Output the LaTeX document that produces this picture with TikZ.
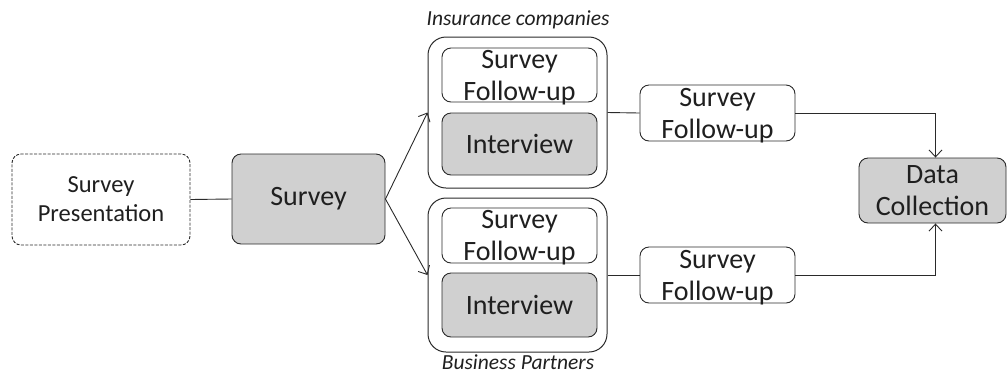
\documentclass[tikz,border=0pt]{standalone}
\usepackage{fontspec}
\setmainfont{Carlito}
\usetikzlibrary{arrows.meta}
\definecolor{ln}{HTML}{2A2A2A}
\definecolor{gfill}{HTML}{D0D0D0}
\begin{document}
\begin{tikzpicture}[x=1pt,y=-1pt,
  box/.style={draw=ln,line width=0.9pt,rounded corners=9pt,align=center,inner sep=0pt,text=black!88,font=\fontsize{28}{32}\selectfont},
  grey/.style={box,fill=gfill},
  sfbox/.style={box,text depth=0pt},
  outer/.style={draw=ln,line width=1pt,rounded corners=18pt,inner sep=0pt},
  lab/.style={font=\fontsize{21.5}{24}\selectfont\itshape,text=black!88},
  conn/.style={draw=ln,line width=0.9pt},
  arr/.style={conn,-{Straight Barb[length=7pt,width=13pt]}}]
\useasboundingbox (0,0) rectangle (1007,376);
\node[box,dash pattern=on 3pt off 1.5pt,font=\fontsize{24.5}{29}\selectfont,minimum width=178pt,minimum height=91pt] (sp) at (101,199.5) {Survey\\Presentation};
\node[grey,minimum width=153pt,minimum height=90pt] (sv) at (308.5,199) {Survey};
\node[outer,minimum width=179pt,minimum height=151pt] (oa) at (517.5,112.5) {};
\node[sfbox,minimum width=155pt,minimum height=54pt] (sfa) at (519.5,75) {Survey\\Follow-up};
\node[grey,minimum width=155pt,minimum height=62pt] (iva) at (519.5,144) {Interview};
\node[outer,minimum width=179pt,minimum height=154pt] (ob) at (517.5,275) {};
\node[sfbox,minimum width=155pt,minimum height=55pt] (sfb) at (519.5,235.5) {Survey\\Follow-up};
\node[grey,minimum width=155pt,minimum height=64pt] (ivb) at (519.5,305) {Interview};
\node[sfbox,minimum width=155pt,minimum height=56pt] (sfr1) at (717.5,113) {Survey\\Follow-up};
\node[sfbox,minimum width=155pt,minimum height=56pt] (sfr2) at (717.5,275) {Survey\\Follow-up};
\node[grey,minimum width=147pt,minimum height=65pt] (dc) at (932.5,190.5) {Data\\Collection};
\node[lab] (lia) at (518,20) {Insurance companies};
\node[lab] (lbp) at (518,362) {Business Partners};
\draw[conn] (sp.east) -- (sv.west);
\draw[arr] (sv.east) -- (oa.west);
\draw[arr] (sv.east) -- (ob.west);
\draw[conn] (oa.east) -- (sfr1.west);
\draw[conn] (ob.east) -- (sfr2.west);
\draw[arr] (sfr1.east) -| ([xshift=3pt]dc.north);
\draw[arr] (sfr2.east) -| ([xshift=3pt]dc.south);
\end{tikzpicture}
\end{document}
